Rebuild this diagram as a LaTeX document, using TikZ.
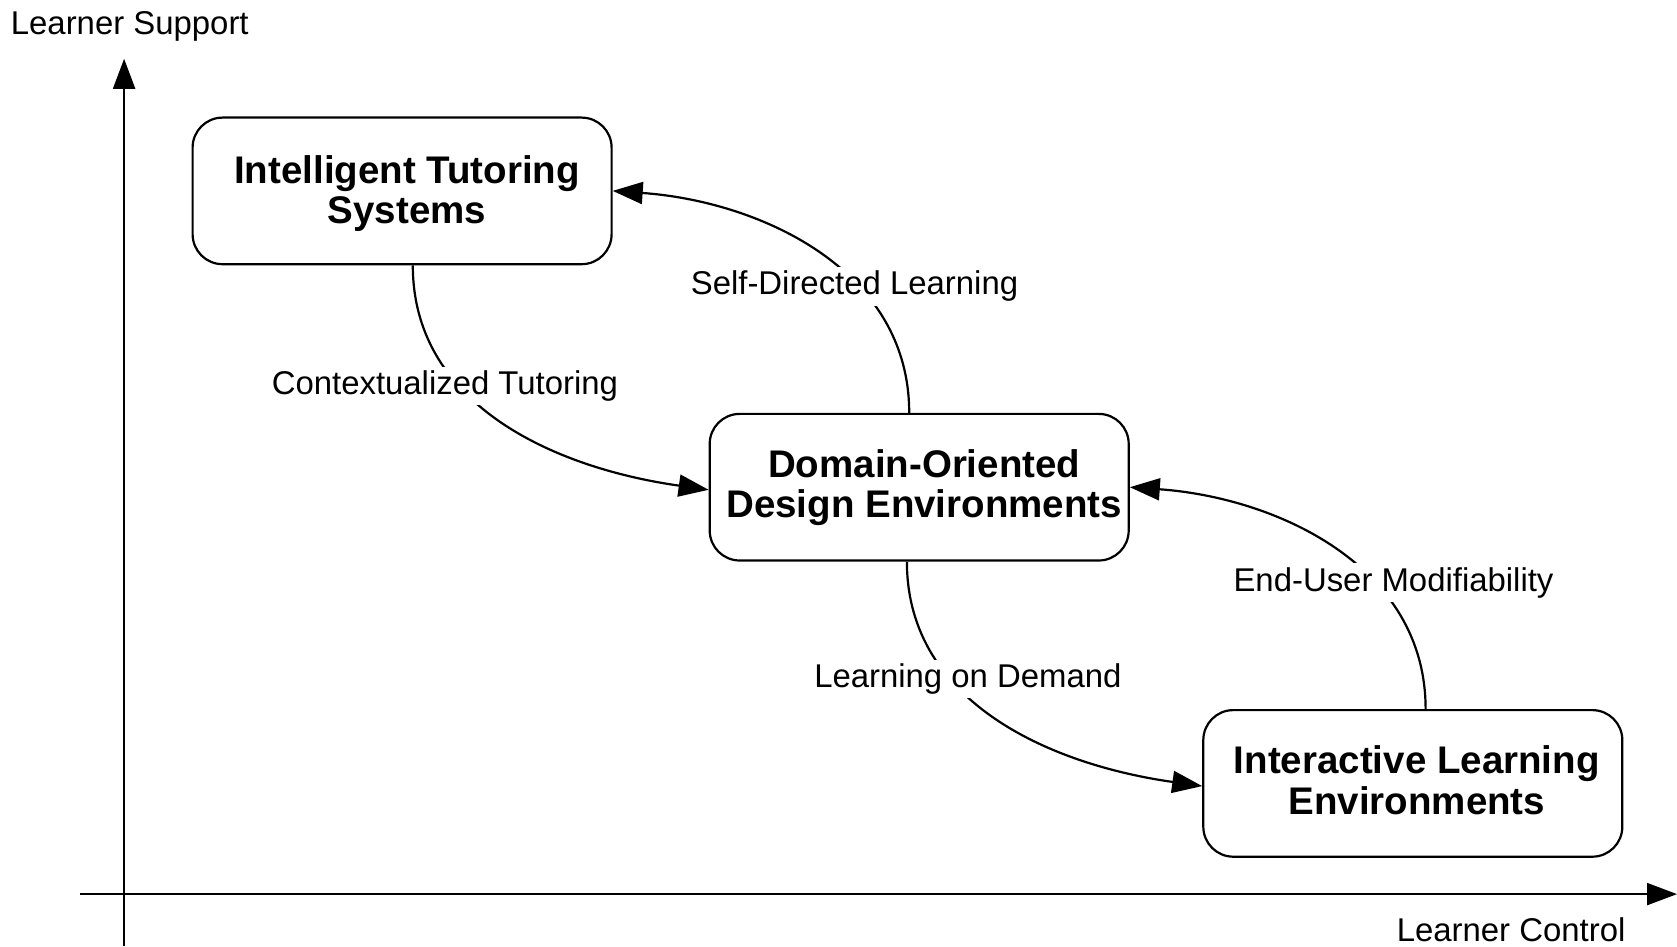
\documentclass[tikz,border=0pt]{standalone}
\usepackage{fontspec}
\setmainfont{Liberation Sans}
\usetikzlibrary{arrows.meta}
\begin{document}
\begin{tikzpicture}[x=1pt,y=1pt,
  box/.style={draw, line width=2.2pt, rounded corners=30pt, minimum width=419pt, minimum height=146.6pt, align=center, inner sep=0pt,
    font=\fontsize{38.5}{40.6}\selectfont\bfseries},
  boxtext/.style={inner sep=0pt, align=center, font=\fontsize{38.5}{40.6}\selectfont\bfseries},
  lbl/.style={fill=white, inner sep=4pt, font=\fontsize{32.9}{39}\selectfont},
  axlbl/.style={inner sep=0pt, font=\fontsize{32.9}{39}\selectfont},
  conn/.style={line width=2.2pt, -{Triangle[length=30pt,width=22pt]}}]
\useasboundingbox (0,0) rectangle (1677,946);
% axes
\coordinate (yb) at (124.1,0);
\coordinate (yt) at (124.1,887.2);
\coordinate (xl) at (80.2,51.9);
\coordinate (xr) at (1677,51.9);
\draw[conn] (yb) -- (yt);
\draw[conn] (xl) -- (xr);
\node[axlbl, anchor=west] (ys) at (10.7,919.5) {Learner Support};
\node[axlbl, anchor=east] (xc) at (1625.6,16.5) {Learner Control};
% boxes
\node[box] (its) at (402.1,755.1) {};
\node[box] (dode) at (919.2,458.8) {};
\node[box] (ile) at (1412.8,162.6) {};
\node[boxtext] (itst) at ([xshift=5pt,yshift=-2.5pt]its.center) {Intelligent Tutoring\\Systems};
\node[boxtext] (dodet) at ([xshift=5pt,yshift=-0.5pt]dode.center) {Domain-Oriented\\Design Environments};
\node[boxtext] (ilet) at ([xshift=4pt,yshift=3pt]ile.center) {Interactive Learning\\Environments};
% connectors
\draw[conn] ([xshift=-10pt]dode.north) to[out=90,in=-4] (its.east);
\draw[conn] ([xshift=10.7pt]its.south) to[out=-90,in=172] ([yshift=-2.6pt]dode.west);
\draw[conn] ([xshift=-12.3pt]dode.south) to[out=-90,in=172] ([yshift=-2.7pt]ile.west);
\draw[conn] ([xshift=12.8pt]ile.north) to[out=90,in=-4] (dode.east);
% labels
\node[lbl] (l1) at (854.5,659.6) {Self-Directed Learning};
\node[lbl] (l2) at (444.9,560.1) {Contextualized Tutoring};
\node[lbl] (l3) at (967.9,267.1) {Learning on Demand};
\node[lbl] (l4) at (1393.5,363.3) {End-User Modifiability};
\end{tikzpicture}
\end{document}
